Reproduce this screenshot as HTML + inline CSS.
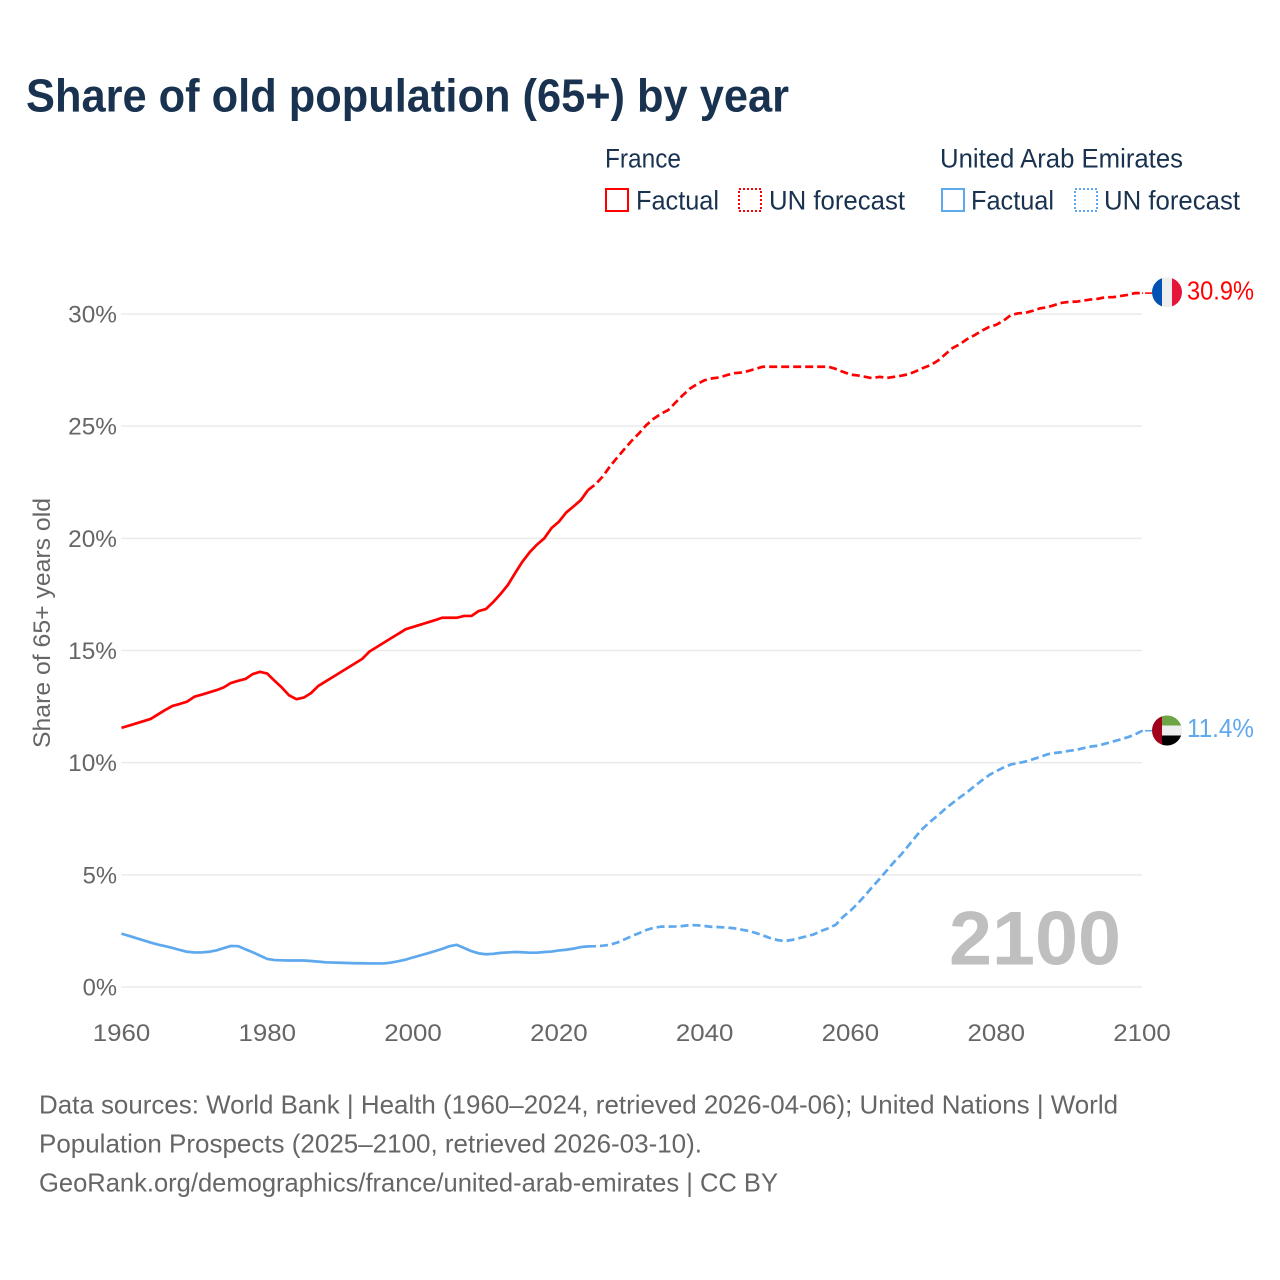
<!DOCTYPE html>
<html lang="en">
<head>
<meta charset="utf-8">
<title>Share of old population (65+) by year</title>
<style>
html,body{margin:0;padding:0;background:#fff;}
svg{display:block;font-family:"Liberation Sans",sans-serif;}
</style>
</head>
<body>
<svg id="chart" xmlns="http://www.w3.org/2000/svg" width="1280" height="1280" viewBox="0 0 1280 1280">
  <rect x="0" y="0" width="1280" height="1280" fill="#fff"/>
  <text x="26" y="111.5" font-size="46" font-weight="700" fill="#18324f" textLength="763" lengthAdjust="spacingAndGlyphs">Share of old population (65+) by year</text>

  <g fill="#18324f" font-size="27">
    <text x="605" y="167.5" textLength="76" lengthAdjust="spacingAndGlyphs">France</text>
    <text x="940" y="167.5" textLength="243" lengthAdjust="spacingAndGlyphs">United Arab Emirates</text>
    <g>
      <rect x="606" y="189" width="22" height="22" fill="none" stroke="#ff0000" stroke-width="2"/>
      <text x="636" y="209.5" textLength="83" lengthAdjust="spacingAndGlyphs">Factual</text>
    </g>
    <g>
      <rect x="739" y="189" width="22" height="22" fill="none" stroke="#ff0000" stroke-width="2" stroke-dasharray="2 2"/>
      <text x="769" y="209.5" textLength="136" lengthAdjust="spacingAndGlyphs">UN forecast</text>
    </g>
    <g>
      <rect x="942" y="189" width="22" height="22" fill="none" stroke="#5ea8ee" stroke-width="2"/>
      <text x="971" y="209.5" textLength="83" lengthAdjust="spacingAndGlyphs">Factual</text>
    </g>
    <g>
      <rect x="1075" y="189" width="22" height="22" fill="none" stroke="#5ea8ee" stroke-width="2" stroke-dasharray="2 2"/>
      <text x="1104" y="209.5" textLength="136" lengthAdjust="spacingAndGlyphs">UN forecast</text>
    </g>
  </g>

  <g id="grid"></g>
  <g id="yticks"></g>
  <g id="xticks"></g>
  <text transform="translate(50 623) rotate(-90)" text-anchor="middle" font-size="24" fill="#666" textLength="250" lengthAdjust="spacingAndGlyphs">Share of 65+ years old</text>
  <text x="1121" y="964.5" text-anchor="end" font-size="76" font-weight="700" fill="#bfbfbf" textLength="172" lengthAdjust="spacingAndGlyphs">2100</text>

  <g id="series"></g>

  <defs>
    <clipPath id="clip-fr"><circle cx="1167" cy="292.3" r="15"/></clipPath>
    <clipPath id="clip-ae"><circle cx="1167" cy="730.5" r="15"/></clipPath>
  </defs>
  <g clip-path="url(#clip-fr)">
    <rect x="1152" y="277" width="10" height="31" fill="#0052b4"/>
    <rect x="1162" y="277" width="10" height="31" fill="#eeeeee"/>
    <rect x="1172" y="277" width="10" height="31" fill="#e8153a"/>
  </g>
  <g clip-path="url(#clip-ae)">
    <rect x="1162" y="715" width="20" height="10.5" fill="#6da544"/>
    <rect x="1162" y="725.5" width="20" height="10" fill="#eeeeee"/>
    <rect x="1162" y="735.5" width="20" height="11" fill="#000000"/>
    <rect x="1152" y="715" width="10" height="31" fill="#a2001d"/>
  </g>
  <text id="label-fr" x="1187" y="299.5" font-size="26" fill="#ff0000" textLength="67" lengthAdjust="spacingAndGlyphs"></text>
  <text id="label-ae" x="1187" y="737" font-size="26" fill="#5ea8ee" textLength="67" lengthAdjust="spacingAndGlyphs"></text>

  <g font-size="26" fill="#666">
    <text x="39" y="1113.5" textLength="1079" lengthAdjust="spacingAndGlyphs">Data sources: World Bank | Health (1960–2024, retrieved 2026-04-06); United Nations | World</text>
    <text x="39" y="1152.5" textLength="663" lengthAdjust="spacingAndGlyphs">Population Prospects (2025–2100, retrieved 2026-03-10).</text>
    <text x="39" y="1191.5" textLength="739" lengthAdjust="spacingAndGlyphs">GeoRank.org/demographics/france/united-arab-emirates | CC BY</text>
  </g>
</svg>
<script>
const xTickYears = [1960, 1980, 2000, 2020, 2040, 2060, 2080, 2100];
const yTickValues = [0, 5, 10, 15, 20, 25, 30];

const factualStartYear = 1960;
const forecastStartYear = 2024;

const franceFactual = [
  11.55,11.65,11.75,11.85,11.95,12.15,12.35,12.53,12.62,12.72,
  12.94,13.03,13.13,13.23,13.35,13.55,13.65,13.73,13.95,14.05,
  13.97,13.65,13.35,13.0,12.83,12.9,13.1,13.42,13.62,13.82,
  14.02,14.22,14.42,14.62,14.95,15.15,15.35,15.55,15.75,15.95,
  16.05,16.15,16.25,16.35,16.46,16.46,16.46,16.54,16.54,16.76,
  16.85,17.16,17.52,17.92,18.45,18.96,19.38,19.72,20.0,20.46,
  20.74,21.15,21.42,21.7,22.15
];
const franceForecast = [
  22.15,22.4,22.75,23.2,23.6,23.98,24.35,24.68,25.05,25.33,
  25.55,25.72,26.05,26.38,26.68,26.88,27.05,27.13,27.17,27.27,
  27.36,27.39,27.46,27.56,27.65,27.65,27.65,27.65,27.65,27.65,
  27.65,27.65,27.65,27.65,27.55,27.42,27.3,27.26,27.2,27.14,
  27.2,27.15,27.2,27.25,27.32,27.45,27.6,27.72,27.92,28.2,
  28.48,28.65,28.88,29.05,29.25,29.42,29.52,29.7,29.95,30.03,
  30.05,30.14,30.25,30.3,30.4,30.5,30.54,30.55,30.6,30.65,
  30.68,30.75,30.75,30.8,30.85,30.93,30.93
];
const uaeFactual = [
  2.38,2.28,2.18,2.08,1.98,1.89,1.82,1.74,1.65,1.57,
  1.54,1.54,1.57,1.63,1.73,1.83,1.82,1.68,1.55,1.4,
  1.25,1.2,1.19,1.18,1.18,1.18,1.16,1.13,1.1,1.09,
  1.08,1.07,1.06,1.06,1.05,1.05,1.05,1.09,1.15,1.22,
  1.32,1.41,1.5,1.6,1.7,1.82,1.88,1.74,1.6,1.5,
  1.46,1.48,1.52,1.54,1.56,1.55,1.53,1.53,1.56,1.58,
  1.63,1.66,1.71,1.78,1.81
];
const uaeForecast = [
  1.81,1.82,1.84,1.88,1.98,2.12,2.27,2.4,2.54,2.64,
  2.69,2.69,2.7,2.72,2.76,2.75,2.72,2.68,2.67,2.65,
  2.62,2.56,2.5,2.41,2.3,2.18,2.09,2.05,2.1,2.18,
  2.26,2.35,2.5,2.62,2.78,3.13,3.4,3.72,4.08,4.46,
  4.82,5.2,5.58,5.92,6.32,6.72,7.09,7.38,7.65,7.94,
  8.2,8.45,8.68,8.95,9.2,9.44,9.62,9.78,9.92,9.98,
  10.05,10.15,10.25,10.37,10.43,10.47,10.53,10.57,10.65,10.72,
  10.76,10.85,10.94,11.03,11.13,11.25,11.42
];
const franceEndLabel = "30.9%";
const uaeEndLabel = "11.4%";

const NS = "http://www.w3.org/2000/svg";
const xScale = function (year) { return 121.5 + (year - 1960) * (1142 - 121.5) / 140; };
const yScale = function (v) { return 987 - v * (987 - 314) / 30; };

function make(tag, parent) {
  const el = document.createElementNS(NS, tag);
  parent.appendChild(el);
  return el;
}

const gridLayer = document.getElementById("grid");
const yLayer = document.getElementById("yticks");
const xLayer = document.getElementById("xticks");
const seriesLayer = document.getElementById("series");

yTickValues.forEach(function (v) {
  const line = make("line", gridLayer);
  
  
  line.setAttribute("x1", 121);
  line.setAttribute("x2", 1142);
  line.setAttribute("y1", yScale(v));
  line.setAttribute("y2", yScale(v));
  line.setAttribute("stroke", "#ebebeb");
  line.setAttribute("stroke-width", "1.5");

  const label = make("text", yLayer);
  
  
  label.textContent = v + "%";
  label.setAttribute("x", 117);
  label.setAttribute("y", yScale(v) + 8.5);
  label.setAttribute("text-anchor", "end");
  label.setAttribute("font-size", "24");
  label.setAttribute("fill", "#666");
  label.setAttribute("textLength", String(v).length * 14.4 + 20);
  label.setAttribute("lengthAdjust", "spacingAndGlyphs");
});

xTickYears.forEach(function (year) {
  const label = make("text", xLayer);
  
  
  label.textContent = String(year);
  label.setAttribute("x", xScale(year));
  label.setAttribute("y", 1041);
  label.setAttribute("text-anchor", "middle");
  label.setAttribute("font-size", "24");
  label.setAttribute("fill", "#666");
  label.setAttribute("textLength", "57.5");
  label.setAttribute("lengthAdjust", "spacingAndGlyphs");
});

function linePath(values, startYear) {
  return values.map(function (v, i) {
    return (i ? "L" : "M") + xScale(startYear + i).toFixed(2) + " " + yScale(v).toFixed(2);
  }).join("");
}

function drawLine(values, startYear, color, dashed, width) {
  const path = make("path", seriesLayer);
  path.setAttribute("d", linePath(values, startYear));
  path.setAttribute("fill", "none");
  path.setAttribute("stroke", color);
  path.setAttribute("stroke-width", width);
  path.setAttribute("stroke-linejoin", "round");
  if (dashed) { path.setAttribute("stroke-dasharray", "8 4"); }
  return path;
}

function drawConnector(values, color) {
  const last = values[values.length - 1];
  const line = make("line", seriesLayer);
  line.setAttribute("x1", xScale(2100));
  line.setAttribute("x2", 1152);
  line.setAttribute("y1", yScale(last));
  line.setAttribute("y2", yScale(last));
  line.setAttribute("stroke", color);
  line.setAttribute("stroke-width", "1.5");
  line.setAttribute("stroke-dasharray", "1 2 7 3");
  return line;
}

const frFactualLine = drawLine(franceFactual, factualStartYear, "#ff0000", false, 2.7);



const frForecastLine = drawLine(franceForecast, forecastStartYear, "#ff0000", true, 2.7);



const aeFactualLine = drawLine(uaeFactual, factualStartYear, "#5ea8ee", false, 2.7);



const aeForecastLine = drawLine(uaeForecast, forecastStartYear, "#5ea8ee", true, 2.7);



const frConnector = drawConnector(franceForecast, "#ff0000");



const aeConnector = drawConnector(uaeForecast, "#5ea8ee");



document.getElementById("label-fr").textContent = franceEndLabel;
document.getElementById("label-ae").textContent = uaeEndLabel;
</script>
</body>
</html>
